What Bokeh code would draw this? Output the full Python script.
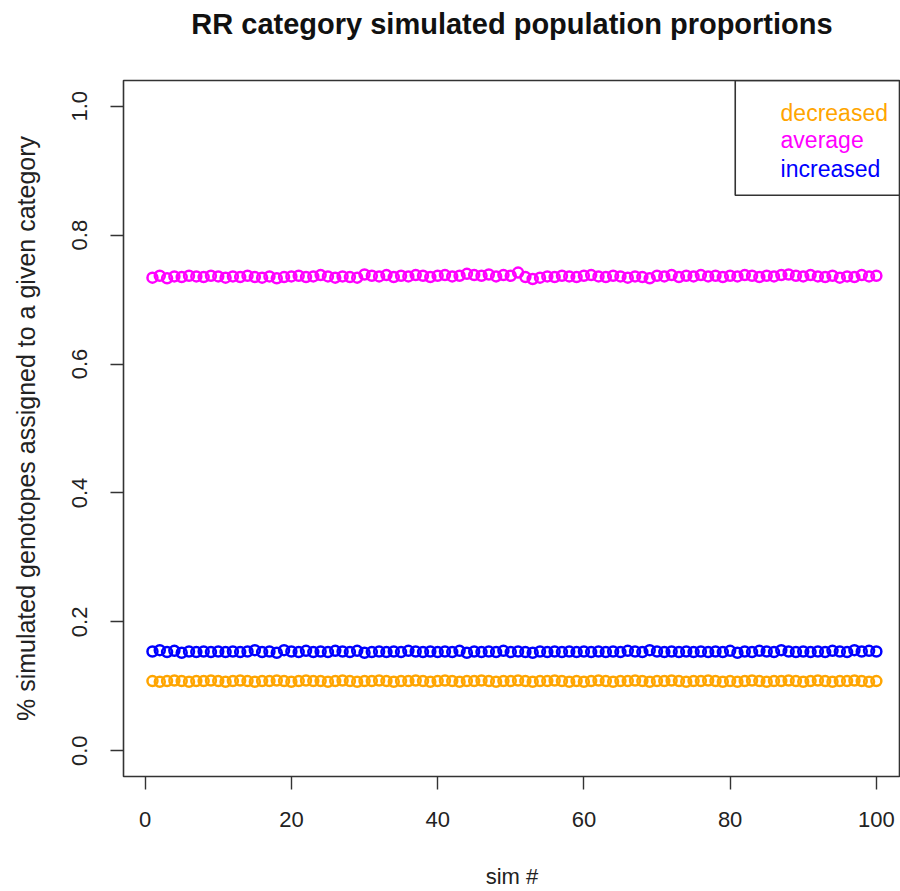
from bokeh.plotting import figure
from bokeh.models import (FixedTicker, PrintfTickFormatter, BoxAnnotation, ColumnDataSource,
                          Range1d, LinearAxis)
from bokeh.core.properties import value
from bokeh.embed import file_html
from bokeh.resources import INLINE

# ---- data ----
sims = list(range(1, 101))

average = [
    0.734, 0.737, 0.733, 0.736, 0.735, 0.737, 0.736, 0.735, 0.737, 0.736,
    0.734, 0.736, 0.735, 0.737, 0.735, 0.734, 0.736, 0.733, 0.735, 0.736,
    0.737, 0.735, 0.736, 0.738, 0.736, 0.734, 0.736, 0.735, 0.734, 0.739,
    0.737, 0.736, 0.738, 0.735, 0.737, 0.736, 0.738, 0.737, 0.735, 0.737,
    0.738, 0.736, 0.737, 0.740, 0.738, 0.737, 0.739, 0.736, 0.738, 0.737,
    0.742, 0.735, 0.732, 0.734, 0.736, 0.735, 0.737, 0.736, 0.735, 0.737,
    0.738, 0.736, 0.735, 0.737, 0.736, 0.734, 0.736, 0.735, 0.733, 0.737,
    0.736, 0.738, 0.735, 0.737, 0.736, 0.738, 0.736, 0.737, 0.735, 0.737,
    0.736, 0.738, 0.737, 0.735, 0.737, 0.736, 0.738, 0.739, 0.737, 0.736,
    0.738, 0.736, 0.735, 0.737, 0.734, 0.736, 0.735, 0.738, 0.736, 0.737,
]

increased = [
    0.154, 0.156, 0.153, 0.155, 0.152, 0.154, 0.153, 0.154, 0.153, 0.154,
    0.153, 0.154, 0.153, 0.154, 0.156, 0.153, 0.154, 0.152, 0.156, 0.154,
    0.153, 0.155, 0.153, 0.154, 0.153, 0.155, 0.154, 0.153, 0.155, 0.152,
    0.153, 0.154, 0.153, 0.154, 0.153, 0.155, 0.154, 0.153, 0.154, 0.153,
    0.154, 0.153, 0.155, 0.152, 0.154, 0.153, 0.154, 0.153, 0.155, 0.153,
    0.154, 0.153, 0.152, 0.154, 0.153, 0.154, 0.153, 0.154, 0.153, 0.154,
    0.153, 0.154, 0.153, 0.154, 0.153, 0.155, 0.154, 0.153, 0.156, 0.154,
    0.153, 0.154, 0.153, 0.154, 0.153, 0.154, 0.153, 0.154, 0.153, 0.155,
    0.152, 0.154, 0.153, 0.155, 0.154, 0.153, 0.156, 0.154, 0.153, 0.154,
    0.153, 0.154, 0.153, 0.155, 0.154, 0.153, 0.156, 0.154, 0.155, 0.154,
]

decreased = [
    0.108, 0.107, 0.108, 0.109, 0.108, 0.107, 0.108, 0.108, 0.109, 0.108,
    0.107, 0.108, 0.109, 0.108, 0.107, 0.108, 0.108, 0.109, 0.108, 0.107,
    0.108, 0.109, 0.108, 0.108, 0.107, 0.108, 0.109, 0.108, 0.107, 0.108,
    0.108, 0.109, 0.108, 0.107, 0.108, 0.108, 0.109, 0.108, 0.107, 0.108,
    0.109, 0.108, 0.107, 0.108, 0.108, 0.109, 0.108, 0.107, 0.108, 0.108,
    0.109, 0.108, 0.107, 0.108, 0.108, 0.109, 0.108, 0.107, 0.108, 0.107,
    0.108, 0.109, 0.108, 0.107, 0.108, 0.108, 0.109, 0.108, 0.107, 0.108,
    0.108, 0.109, 0.108, 0.107, 0.108, 0.108, 0.109, 0.108, 0.107, 0.108,
    0.107, 0.108, 0.109, 0.108, 0.107, 0.108, 0.108, 0.109, 0.108, 0.107,
    0.108, 0.109, 0.108, 0.107, 0.108, 0.108, 0.109, 0.108, 0.107, 0.108,
]

series_names = ["decreased", "average", "increased"]
series_colors = ["#FFA500", "#FF00FF", "#0000FF"]
x_ticks = [0, 20, 40, 60, 80, 100]
y_ticks = [0.0, 0.2, 0.4, 0.6, 0.8, 1.0]

title = "RR category simulated population proportions"
x_label = "sim #"
y_label = "% simulated genotopes assigned to a given category"

FONT = "Liberation Sans"
TXT = "#222222"
X_END = 103.3

p = figure(width=900, height=891, output_backend="svg", toolbar_location=None,
           x_range=Range1d(-2.96, X_END), y_range=Range1d(-0.04, 1.04),
           min_border_left=123, min_border_right=0, min_border_top=80, min_border_bottom=113)

xax = p.below[0]
yax = p.left[0]

p.background_fill_color = "white"
p.border_fill_color = "white"
p.outline_line_color = "#333333"
p.outline_line_width = 1.6
p.xgrid.visible = False
p.ygrid.visible = False

for ax in (xax, yax):
    ax.axis_line_color = None
    ax.major_tick_in = 0
    ax.major_tick_out = 13
    ax.major_tick_line_color = "#333333"
    ax.major_tick_line_width = 1.4
    ax.minor_tick_line_color = None
    ax.major_label_text_font = FONT
    ax.major_label_text_font_size = "22px"
    ax.major_label_text_color = TXT
    ax.axis_label_text_font = FONT
    ax.axis_label_text_font_style = "normal"
    ax.axis_label_text_color = TXT

xax.axis_label_text_font_size = "22px"
yax.axis_label_text_font_size = "25px"
xax.ticker = FixedTicker(ticks=x_ticks)
yax.ticker = FixedTicker(ticks=y_ticks)
yax.formatter = PrintfTickFormatter(format="%.1f")
yax.major_label_orientation = "vertical"
xax.axis_label = x_label
yax.axis_label = y_label
xax.major_label_standoff = 22
xax.axis_label_standoff = 34
yax.major_label_standoff = 23
yax.axis_label_standoff = 30

# title: drawn as the label of a bare axis above the frame
title_axis = LinearAxis(ticker=FixedTicker(ticks=[]), axis_label=title,
                        axis_line_color=None, major_tick_line_color=None,
                        minor_tick_line_color=None, major_label_text_font_size="0px",
                        major_label_standoff=0, axis_label_standoff=41,
                        axis_label_text_font=FONT, axis_label_text_font_size="29px",
                        axis_label_text_font_style="bold", axis_label_text_color="#111111")
p.add_layout(title_axis, "above")

for name, vals, col in zip(series_names, [decreased, average, increased], series_colors):
    src = ColumnDataSource(dict(x=sims, y=vals))
    p.scatter("x", "y", source=src, size=10, marker="circle", fill_color=None,
              line_color=col, line_width=2.5)

# legend (R style, top-right, coloured text only)
legend_box = BoxAnnotation(left=80.7, right=X_END, top=1.04, bottom=0.862,
                           fill_color=None, fill_alpha=0, line_color="#333333",
                           line_alpha=1.0, line_width=1.6)
p.add_layout(legend_box)
leg_src = ColumnDataSource(dict(x=[86.9] * 3, y=[0.990, 0.948, 0.903],
                                text=series_names, color=series_colors))
p.text("x", "y", text="text", source=leg_src, text_color="color",
       text_font=value(FONT), text_font_size="23px", text_baseline="middle", text_align="left")

open("out.html", "w").write(file_html(p, INLINE))
